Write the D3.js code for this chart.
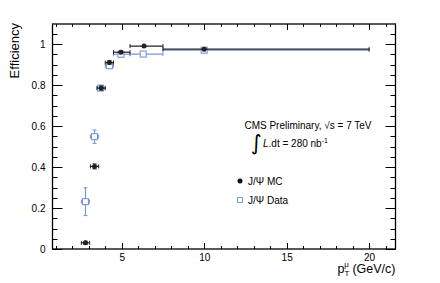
<!DOCTYPE html>
<html><head><meta charset="utf-8">
<script src="https://cdn.jsdelivr.net/npm/d3@7"></script>
<style>
html,body{margin:0;padding:0;background:#fff;}
svg{display:block;font-family:"Liberation Sans",Arial,sans-serif;}
</style></head>
<body>
<svg id="c" width="440" height="283"></svg>
<script>
// ---- data ----
const mcX    = [2.80, 3.35, 3.75, 4.25, 4.95, 6.35, 10.0];
const mcXlo  = [2.55, 3.10, 3.50, 4.00, 4.50, 5.50, 7.50];
const mcXhi  = [3.05, 3.60, 4.00, 4.50, 5.50, 7.50, 20.0];
const mcY    = [0.030, 0.403, 0.785, 0.910, 0.960, 0.990, 0.975];
const mcYerr = [0.008, 0.012, 0.010, 0.008, 0.006, 0.005, 0.004];

const dataX    = [2.80, 3.35, 3.72, 4.25, 4.95, 6.30, 10.0];
const dataXlo  = [2.55, 3.10, 3.50, 4.00, 4.50, 5.50, 7.50];
const dataXhi  = [3.05, 3.60, 4.00, 4.50, 5.50, 7.50, 20.0];
const dataY    = [0.231, 0.548, 0.785, 0.894, 0.950, 0.951, 0.970];
const dataYerr = [0.068, 0.033, 0.012, 0.010, 0.006, 0.005, 0.004];

const xTicks = [5, 10, 15, 20];
const yTicks = [0, 0.2, 0.4, 0.6, 0.8, 1];

// ---- layout ----
const svg = d3.select("#c");
const L = 52.5, R = 395.5, T = 24, B = 249;
const x = d3.scaleLinear().domain([0.8, 21.6]).range([L, R]);
const y = d3.scaleLinear().domain([0, 1.0976]).range([B, T]);

const xMinor = d3.range(1, 22, 1);
const yMinor = d3.range(0, 1.1, 0.05);

const g = svg.append("g");

const xb = g.append("g").attr("transform", `translate(0,${B})`)
  .call(d3.axisBottom(x).tickValues(xTicks).tickFormat(d3.format("d")).tickSizeInner(0).tickSizeOuter(0).tickPadding(5));
xb.select(".domain").remove();
xb.selectAll("text").attr("font-size", 10).attr("fill", "#000").attr("font-family", "Liberation Sans, Arial, sans-serif");

const yl = g.append("g").attr("transform", `translate(${L},0)`)
  .call(d3.axisLeft(y).tickValues(yTicks).tickFormat(d => d === 0 ? "0" : d === 1 ? "1" : d3.format(".1f")(d)).tickSizeInner(0).tickSizeOuter(0).tickPadding(7));
yl.select(".domain").remove();
yl.selectAll("text").attr("font-size", 10).attr("fill", "#000").attr("font-family", "Liberation Sans, Arial, sans-serif");

const tk = g.append("g").attr("stroke", "#000").attr("stroke-width", 1);
xMinor.filter(v => v > 0.8 && v < 21.6).forEach(v => {
  const len = (v % 5 === 0) ? 6 : 3;
  const px = Math.round(x(v)) + 0.5;
  tk.append("line").attr("x1", px).attr("x2", px).attr("y1", B).attr("y2", B - len);
  tk.append("line").attr("x1", px).attr("x2", px).attr("y1", T).attr("y2", T + len);
});
yMinor.forEach(v => {
  const major = Math.abs(v * 5 - Math.round(v * 5)) < 1e-6;
  const len = major ? 10 : 5;
  const py = Math.round(y(v)) + 0.5;
  tk.append("line").attr("x1", L).attr("x2", L + len).attr("y1", py).attr("y2", py);
  tk.append("line").attr("x1", R).attr("x2", R - len).attr("y1", py).attr("y2", py);
});

g.append("rect").attr("x", L).attr("y", T).attr("width", R - L).attr("height", B - T)
  .attr("fill", "none").attr("stroke", "#000").attr("stroke-width", 1.3);

svg.append("text").attr("transform", `translate(19,${T - 1}) rotate(-90)`)
  .attr("text-anchor", "end").attr("font-size", 13).text("Efficiency");

const xt = svg.append("text").attr("x", R).attr("y", 273).attr("text-anchor", "end").attr("font-size", 12.5);
xt.append("tspan").text("p");
xt.append("tspan").attr("font-size", 8).attr("dy", 3).text("T");
xt.append("tspan").attr("font-size", 8).attr("dx", -5).attr("dy", -9).text("μ");
xt.append("tspan").attr("dy", 6).text(" (GeV/c)");

// ---- series ----
const blue = "#7896d8";
function series(X, Xlo, Xhi, Y, Yerr, color, kind) {
  const s = svg.append("g");
  const cap = 2;
  d3.range(X.length).forEach(i => {
    const cx = x(X[i]), cy = y(Y[i]);
    const x0 = x(Xlo[i]), x1 = x(Xhi[i]);
    const y0 = y(Y[i] - Yerr[i]), y1 = y(Y[i] + Yerr[i]);
    s.append("line").attr("x1", x0).attr("x2", x1).attr("y1", cy).attr("y2", cy)
      .attr("stroke", color).attr("stroke-width", 1.2);
    s.append("line").attr("x1", x0).attr("x2", x0).attr("y1", cy - cap).attr("y2", cy + cap).attr("stroke", color).attr("stroke-width", 1);
    s.append("line").attr("x1", x1).attr("x2", x1).attr("y1", cy - cap).attr("y2", cy + cap).attr("stroke", color).attr("stroke-width", 1);
    s.append("line").attr("x1", cx).attr("x2", cx).attr("y1", y0).attr("y2", y1).attr("stroke", color).attr("stroke-width", 1.2);
    s.append("line").attr("x1", cx - cap).attr("x2", cx + cap).attr("y1", y0).attr("y2", y0).attr("stroke", color).attr("stroke-width", 1);
    s.append("line").attr("x1", cx - cap).attr("x2", cx + cap).attr("y1", y1).attr("y2", y1).attr("stroke", color).attr("stroke-width", 1);
    if (kind === "circle") {
      s.append("circle").attr("cx", cx).attr("cy", cy).attr("r", 2.5).attr("fill", color);
    } else {
      s.append("rect").attr("x", cx - 3).attr("y", cy - 3).attr("width", 6).attr("height", 6)
        .attr("fill", "#fff").attr("stroke", color).attr("stroke-width", 1.1);
    }
  });
}
series(dataX, dataXlo, dataXhi, dataY, dataYerr, blue, "square");
series(mcX, mcXlo, mcXhi, mcY, mcYerr, "#222", "circle");

// ---- legend / labels ----
const cms = svg.append("text").attr("x", 308).attr("y", 129).attr("text-anchor", "middle").attr("font-size", 10);
cms.append("tspan").text("CMS Preliminary, ");
cms.append("tspan").text("√s = 7 TeV");

svg.append("text").attr("x", 251).attr("y", 150).attr("font-size", 21).attr("font-family", "DejaVu Sans, sans-serif").text("∫");
const lum = svg.append("text").attr("x", 263).attr("y", 147).attr("font-size", 10);
lum.append("tspan").attr("font-style", "italic").text("L");
lum.append("tspan").text(".dt = 280 nb");
lum.append("tspan").attr("font-size", 7).attr("dy", -4).text("-1");

svg.append("circle").attr("cx", 240).attr("cy", 181).attr("r", 2.5).attr("fill", "#111");
svg.append("text").attr("x", 248).attr("y", 185).attr("font-size", 10).text("J/Ψ MC");
svg.append("rect").attr("x", 237.5).attr("y", 197.5).attr("width", 5).attr("height", 5)
  .attr("fill", "#fff").attr("stroke", blue).attr("stroke-width", 1);
svg.append("text").attr("x", 248).attr("y", 204).attr("font-size", 10).text("J/Ψ Data");
</script>
</body></html>
